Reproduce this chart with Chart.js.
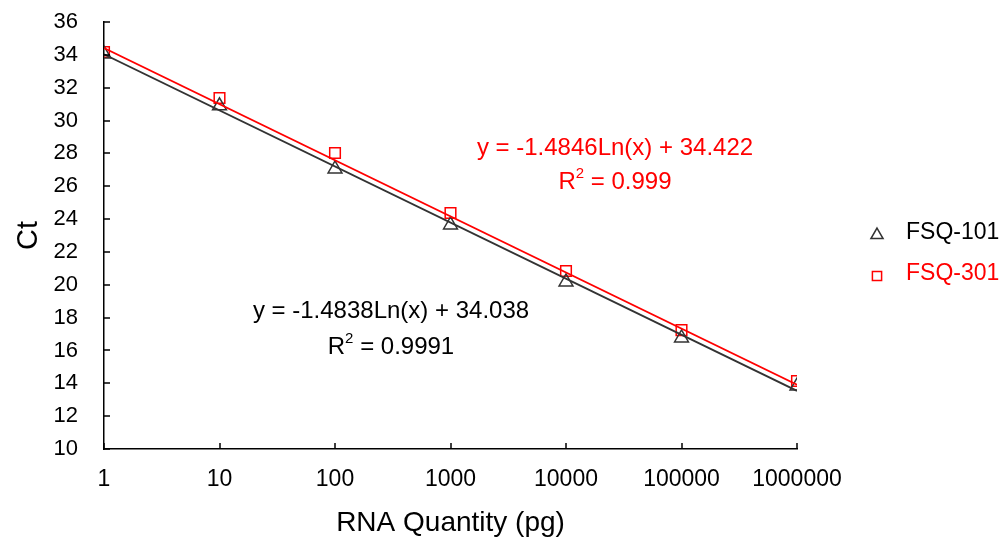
<!DOCTYPE html>
<html>

<head>
    <title>Ct vs RNA Quantity</title>
    <meta charset="UTF-8">
    <script src="https://cdn.jsdelivr.net/npm/chart.js@4.4.1/dist/chart.umd.min.js"></script>
    <style>
        html, body { margin: 0; padding: 0; background: #fff; }
        #wrap { width: 1001px; height: 540px; }
    </style>
</head>

<body>
    <div id="wrap"><canvas id="ctChart" width="1001" height="540"></canvas></div>
    <script>
        // quantities (pg) and measured Ct
        const quantities = [1, 10, 100, 1000, 10000, 100000, 1000000];
        const fsq101 = [34.05, 30.9, 27.05, 23.64, 20.17, 16.76, 13.83];
        const fsq301 = [34.17, 31.37, 28.02, 24.37, 20.84, 17.24, 14.14];

        // trendline ends (at 1 and 1000000)
        const trendX = [1, 1000000];
        const trend101 = [34.04, 13.54];
        const trend301 = [34.42, 13.91];

        const xTicks = [1, 10, 100, 1000, 10000, 100000, 1000000];
        const yMin = 10, yMax = 36, yStep = 2;

        const eq101 = ['y = -1.4838Ln(x) + 34.038', '0.9991'];
        const eq301 = ['y = -1.4846Ln(x) + 34.422', '0.999'];

        const FONT = "'Liberation Sans', Arial, sans-serif";
        const DARK = '#333333';
        const RED = '#ff0000';

        const pts = (xs, ys) => xs.map((x, i) => ({ x: x, y: ys[i] }));

        // tick marks drawn inside the plot, equations, legend
        const extras = {
            id: 'extras',
            afterDraw(chart) {
                const ctx = chart.ctx;
                const xs = chart.scales.x, ys = chart.scales.y;
                const a = chart.chartArea;
                ctx.save();
                ctx.strokeStyle = '#000';
                ctx.lineWidth = 1.5;
                ctx.beginPath();
                xTicks.forEach(v => {
                    const px = Math.round(xs.getPixelForValue(v));
                    ctx.moveTo(px, a.bottom);
                    ctx.lineTo(px, a.bottom - 6);
                });
                for (let v = yMin; v <= yMax; v += yStep) {
                    const py = Math.round(ys.getPixelForValue(v));
                    ctx.moveTo(a.left, py);
                    ctx.lineTo(a.left + 6, py);
                }
                ctx.stroke();

                // trendline equations
                const eq = (lines, color, cx, y1, y2) => {
                    ctx.fillStyle = color;
                    ctx.textBaseline = 'middle';
                    ctx.font = '24px ' + FONT;
                    ctx.textAlign = 'center';
                    ctx.fillText(lines[0], cx, y1);
                    const rest = ' = ' + lines[1];
                    const wR = ctx.measureText('R').width;
                    const wRest = ctx.measureText(rest).width;
                    ctx.font = '15px ' + FONT;
                    const w2 = ctx.measureText('2').width;
                    const start = cx - (wR + w2 + wRest) / 2;
                    ctx.textAlign = 'left';
                    ctx.fillText('2', start + wR, y2 - 8);
                    ctx.font = '24px ' + FONT;
                    ctx.fillText('R', start, y2);
                    ctx.fillText(rest, start + wR + w2, y2);
                };
                eq(eq301, RED, 615, 148, 182);
                eq(eq101, '#000', 391, 311, 347);

                // legend
                const items = [
                    { label: 'FSQ-101', style: 'triangle', color: DARK, text: '#000', y: 233, r: 7 },
                    { label: 'FSQ-301', style: 'rect', color: RED, text: RED, y: 274, r: 6.5 }
                ];
                items.forEach(it => {
                    ctx.strokeStyle = it.color;
                    ctx.fillStyle = 'rgba(0,0,0,0)';
                    ctx.lineWidth = 1.5;
                    Chart.helpers.drawPoint(ctx, { pointStyle: it.style, radius: it.r, rotation: 0, borderWidth: 1.5 }, 877, it.y + 2);
                    ctx.fillStyle = it.text;
                    ctx.font = '23px ' + FONT;
                    ctx.textAlign = 'left';
                    ctx.textBaseline = 'middle';
                    ctx.fillText(it.label, 906, it.y);
                });
                ctx.restore();
            }
        };

        // invisible outer ticks only push the labels away from the axis
        const hiddenTicks = len => ({
            display: true,
            drawOnChartArea: false,
            drawTicks: true,
            tickLength: len,
            color: 'rgba(0,0,0,0)',
            tickColor: 'rgba(0,0,0,0)'
        });

        const ctx = document.getElementById('ctChart');
        const ctChart = new Chart(ctx, {
            type: 'scatter',
            data: {
                datasets: [
                    {
                        label: 'FSQ-101 trend',
                        data: pts(trendX, trend101),
                        showLine: true,
                        borderColor: DARK,
                        borderWidth: 1.8,
                        pointRadius: 0
                    },
                    {
                        label: 'FSQ-301 trend',
                        data: pts(trendX, trend301),
                        showLine: true,
                        borderColor: RED,
                        borderWidth: 1.8,
                        pointRadius: 0
                    },
                    {
                        label: 'FSQ-101',
                        data: pts(quantities, fsq101),
                        pointStyle: 'triangle',
                        pointRadius: 8,
                        borderColor: DARK,
                        backgroundColor: 'rgba(0,0,0,0)',
                        borderWidth: 1.5
                    },
                    {
                        label: 'FSQ-301',
                        data: pts(quantities, fsq301),
                        pointStyle: 'rect',
                        pointRadius: 7.5,
                        borderColor: RED,
                        backgroundColor: 'rgba(0,0,0,0)',
                        borderWidth: 1.5
                    }
                ]
            },
            options: {
                responsive: false,
                animation: false,
                layout: { padding: { left: 0, top: 22, right: 204, bottom: 0 } },
                plugins: {
                    legend: { display: false },
                    tooltip: { enabled: false }
                },
                scales: {
                    x: {
                        type: 'logarithmic',
                        min: 1,
                        max: 1000000,
                        afterBuildTicks: s => { s.ticks = xTicks.map(v => ({ value: v })); },
                        afterFit: s => { s.height = 91; },
                        grid: hiddenTicks(17),
                        border: { display: true, color: '#000', width: 1.5 },
                        ticks: {
                            color: '#000',
                            font: { family: FONT, size: 23 },
                            padding: 0,
                            maxRotation: 0,
                            autoSkip: false,
                            callback: v => String(v)
                        },
                        title: {
                            display: true,
                            text: 'RNA Quantity (pg)',
                            color: '#000',
                            font: { family: FONT, size: 28 },
                            padding: { top: 0, bottom: 0 }
                        }
                    },
                    y: {
                        min: yMin,
                        max: yMax,
                        afterFit: s => { s.width = 104; },
                        grid: hiddenTicks(26),
                        border: { display: true, color: '#000', width: 1.5 },
                        ticks: {
                            stepSize: yStep,
                            color: '#000',
                            font: { family: FONT, size: 22 },
                            padding: 0
                        },
                        title: {
                            display: true,
                            text: 'Ct',
                            color: '#000',
                            font: { family: FONT, size: 29 },
                            padding: { top: 12, bottom: 0 }
                        }
                    }
                }
            },
            plugins: [extras]
        });
    </script>

</body>

</html>
